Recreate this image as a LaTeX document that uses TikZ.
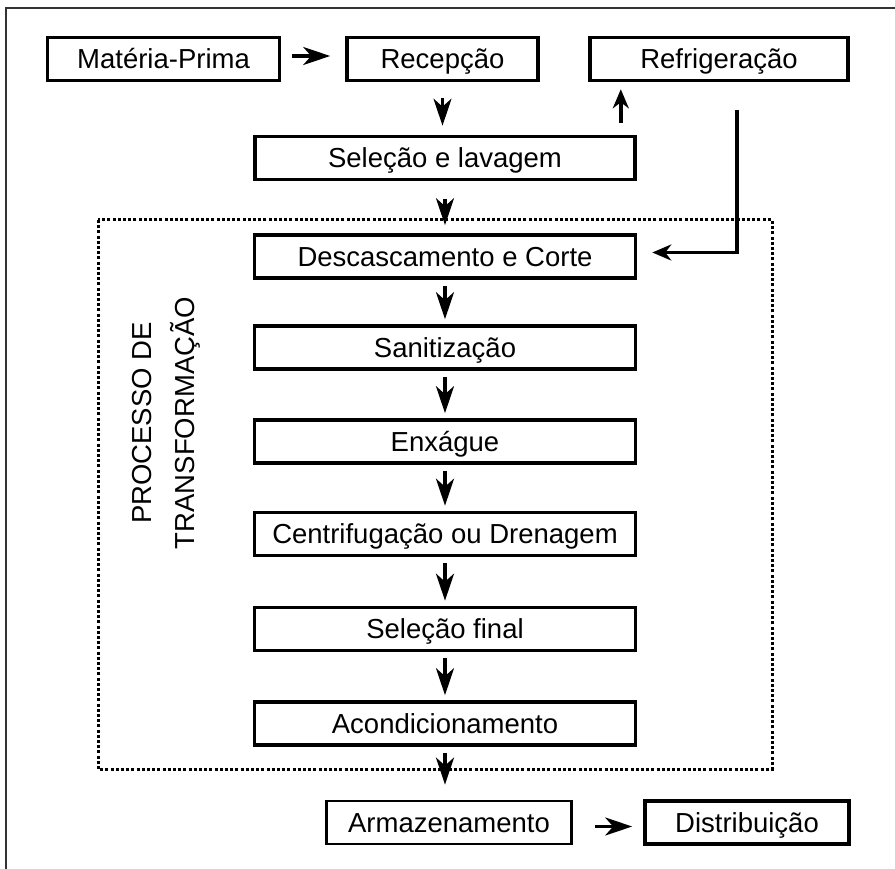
\documentclass[tikz,border=0pt]{standalone}
\usepackage{fontspec}
\setmainfont{Liberation Sans}
\usetikzlibrary{arrows.meta}

\begin{document}
\begin{tikzpicture}[x=1pt,y=-1pt,font=\fontsize{27.5}{43}\selectfont]
        \tikzset{
            stepbox/.style={
                draw=black,
                line width=3.6pt,
                minimum height=43pt,
                text height=19.7pt,
                text depth=0pt,
                inner sep=0pt,
                align=center
            },
            stepthin/.style={stepbox,line width=2.8pt},
            flowarrow/.style={
                -{Stealth[length=27pt,width=18pt,inset=8pt]},
                line width=3.6pt,
                shorten <=6pt,
                shorten >=5pt
            },
            shortarrow/.style={
                flowarrow,
                -{Stealth[length=19pt,width=16pt,inset=6pt]}
            },
            frameline/.style={draw=black!80,line width=2pt},
            stageframe/.style={
                draw=black,
                line width=3pt,
                dash pattern=on 3pt off 2.2pt
            }
        }
        \useasboundingbox (0,0) rectangle (895,869);
        \draw[frameline] (6,869) -- (6,8) -- (895,8);

        \node[stepthin,minimum width=232pt] (materia) at (163.5,59) {Matéria-Prima};
        \node[stepbox,minimum width=191pt] (recepcao) at (442.5,59) {Recepção};
        \node[stepbox,minimum width=258pt] (refrig) at (719,59) {Refrigeração};
        \node[stepbox,minimum width=380pt] (selecao) at (445,158) {Seleção e lavagem};

        \draw[stageframe] (98,220) rectangle (772,769);
        \node[rotate=90,align=center] (stagelabel) at (166,423)
            {PROCESSO DE\\TRANSFORMAÇÃO};

        \node[stepbox,minimum width=381pt] (descasca) at (445,256.5) {Descascamento e Corte};
        \node[stepbox,minimum width=381pt] (sanit) at (445,347.5) {Sanitização};
        \node[stepbox,minimum width=381pt] (enxague) at (445,441.5) {Enxágue};
        \node[stepbox,minimum width=381pt] (centrif) at (445,534) {Centrifugação ou Drenagem};
        \node[stepbox,minimum width=381pt] (selfinal) at (445,629) {Seleção final};
        \node[stepbox,minimum width=381pt] (acond) at (445,723.5) {Acondicionamento};

        \node[stepthin,minimum width=245pt] (armazena) at (449,822.5) {Armazenamento};
        \node[stepbox,minimum width=204pt] (distrib) at (747,822.5) {Distribuição};

        \draw[flowarrow,shorten <=11pt,shorten >=15pt]
            ([yshift=3pt]materia.east) -- ([yshift=3pt]recepcao.west);
        \draw[flowarrow,shorten <=16pt,shorten >=9pt]
            (recepcao.south) -- (recepcao.south |- selecao.north);
        \draw[shortarrow,shorten <=12pt,shorten >=7pt]
            ([xshift=-16pt]selecao.north east) -- ([xshift=-16pt]selecao.north east |- refrig.south);
        \draw[flowarrow,shorten <=18pt,shorten >=8pt] (selecao) -- (descasca);

        \coordinate (refrout) at (737,110);
        \draw[shortarrow,shorten <=0pt,shorten >=15pt]
            (refrout) |- ([yshift=4pt]descasca.east);

        \foreach \from/\to in {descasca/sanit,sanit/enxague,enxague/centrif,centrif/selfinal,selfinal/acond}
            \draw[flowarrow] (\from) -- (\to);

        \draw[flowarrow,shorten >=15pt] (acond.south) -- (acond.south |- armazena.north);
        \draw[flowarrow,shorten <=22pt,shorten >=11pt]
            ([yshift=-4pt]armazena.east) -- ([yshift=-4pt]distrib.west);
    \end{tikzpicture}
\end{document}
